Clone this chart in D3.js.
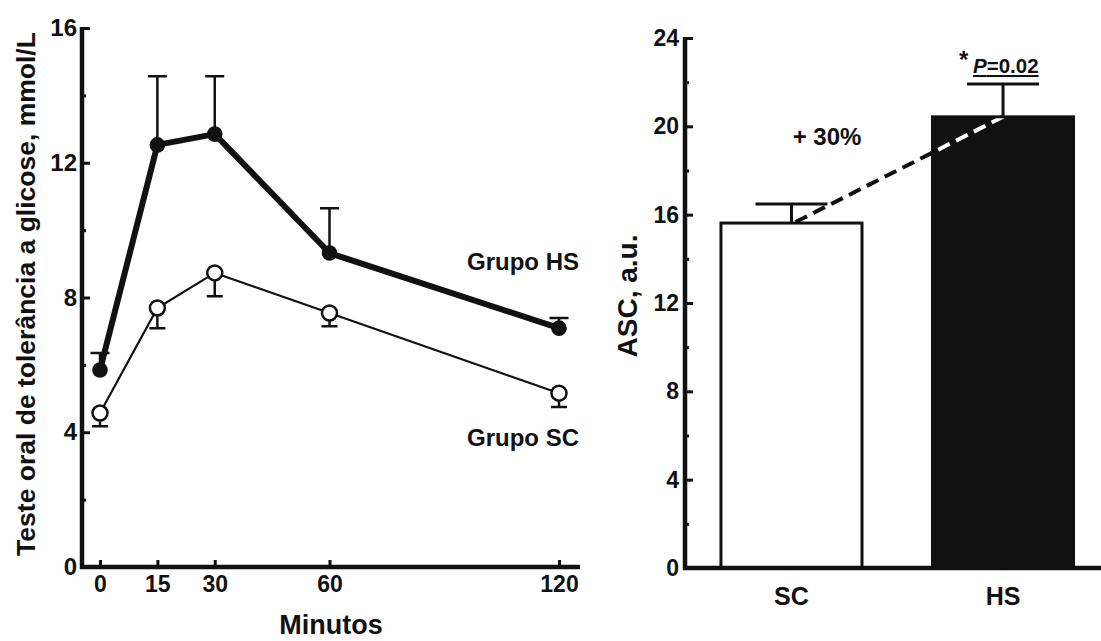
<!DOCTYPE html>
<html><head><meta charset="utf-8">
<script src="https://cdn.jsdelivr.net/npm/d3@7/dist/d3.min.js"></script>
<style>
html,body{margin:0;padding:0;background:#fff;}
svg text{font-family:"Liberation Sans",Arial,sans-serif;font-weight:bold;fill:#111;}
</style></head>
<body>
<svg id="c" width="1101" height="641"></svg>
<script>
// ---- data ----
const minutes = [0, 15, 30, 60, 120];
const hsMean = [5.85, 12.53, 12.85, 9.32, 7.09];
const hsErr  = [0.50, 2.04, 1.72, 1.33, 0.30];
const scMean = [4.57, 7.69, 8.73, 7.54, 5.16];
const scErr  = [0.39, 0.60, 0.69, 0.39, 0.41];
const leftYTicks = [0, 4, 8, 12, 16];
const leftYMinor = [2, 6, 10, 14];
const groups = ["SC", "HS"];
const ascMean = [15.62, 20.43];
const ascErr  = [0.86, 1.49];
const rightYTicks = [0, 4, 8, 12, 16, 20, 24];
const rightYMinor = [2, 6, 10, 14, 18, 22];

const svg = d3.select("#c");
const ink = "#111";

// ================= LEFT PANEL =================
const x = d3.scaleLinear().domain([0, 120]).range([100, 559]);
const y = d3.scaleLinear().domain([0, 16]).range([567, 28]);
const L = svg.append("g");

// y axis
const yAx = L.append("g").attr("transform", "translate(82,0)")
  .call(d3.axisLeft(y).tickValues(leftYTicks).tickSizeInner(-8).tickSizeOuter(0).tickPadding(5));
yAx.select(".domain").remove();
yAx.selectAll(".tick line").attr("stroke", ink).attr("stroke-width", 3);
yAx.selectAll(".tick text").attr("font-size", null).style("font-size", "24px").attr("fill", ink);
const yMin = L.append("g").attr("transform", "translate(82,0)")
  .call(d3.axisLeft(y).tickValues(leftYMinor).tickSizeInner(-4).tickSizeOuter(0).tickFormat(""));
yMin.select(".domain").remove();
yMin.selectAll(".tick line").attr("stroke", ink).attr("stroke-width", 3);
L.append("line").attr("x1", 82).attr("x2", 82).attr("y1", y(16) - 1).attr("y2", y(0) + 2)
  .attr("stroke", ink).attr("stroke-width", 4.5);

// x axis
const xAx = L.append("g").attr("transform", `translate(0,${y(0)})`)
  .call(d3.axisBottom(x).tickValues(minutes).tickSizeInner(-7).tickSizeOuter(0).tickPadding(9));
xAx.select(".domain").remove();
xAx.selectAll(".tick line").attr("stroke", ink).attr("stroke-width", 3);
xAx.selectAll(".tick text").style("font-size", "23px").attr("fill", ink);
L.append("line").attr("x1", 80).attr("x2", 580).attr("y1", y(0)).attr("y2", y(0))
  .attr("stroke", ink).attr("stroke-width", 4.5);

// axis titles
L.append("text").attr("transform", "translate(35,294) rotate(-90)")
  .attr("text-anchor", "middle").style("font-size", "26.5px").text("Teste oral de tolerância a glicose, mmol/L");
L.append("text").attr("x", 331).attr("y", 634).attr("text-anchor", "middle")
  .style("font-size", "27px").text("Minutos");

const sc = minutes.map((m, i) => ({m, v: scMean[i], e: scErr[i]}));
const hs = minutes.map((m, i) => ({m, v: hsMean[i], e: hsErr[i]}));
const line = d3.line().x(d => x(d.m)).y(d => y(d.v));

// SC error bars (downward)
L.selectAll(".scerr").data(sc).enter().append("path")
  .attr("d", d => `M${x(d.m)},${y(d.v)}V${y(d.v - d.e)}M${x(d.m) - 8},${y(d.v - d.e)}H${x(d.m) + 8}`)
  .attr("stroke", ink).attr("stroke-width", 2.5).attr("fill", "none");
L.append("path").datum(sc).attr("d", line).attr("fill", "none").attr("stroke", ink).attr("stroke-width", 2.2);

// HS error bars (upward)
L.selectAll(".hserr").data(hs).enter().append("path")
  .attr("d", d => `M${x(d.m)},${y(d.v)}V${y(d.v + d.e)}M${x(d.m) - 9.5},${y(d.v + d.e)}H${x(d.m) + 9.5}`)
  .attr("stroke", ink).attr("stroke-width", 2.5).attr("fill", "none");
L.append("path").datum(hs).attr("d", line).attr("fill", "none").attr("stroke", ink).attr("stroke-width", 6)
  .attr("stroke-linejoin", "round");

L.selectAll(".scpt").data(sc).enter().append("circle")
  .attr("cx", d => x(d.m)).attr("cy", d => y(d.v)).attr("r", 7.5)
  .attr("fill", "#fff").attr("stroke", ink).attr("stroke-width", 2.5);
L.selectAll(".hspt").data(hs).enter().append("circle")
  .attr("cx", d => x(d.m)).attr("cy", d => y(d.v)).attr("r", 7.8)
  .attr("fill", ink);

L.append("text").attr("x", 467).attr("y", 270).style("font-size", "24px").text("Grupo HS");
L.append("text").attr("x", 467).attr("y", 446).style("font-size", "24px").text("Grupo SC");

// ================= RIGHT PANEL =================
const xb = d3.scaleBand().domain(groups).range([685, 1109.5]).paddingInner(0.3333).paddingOuter(0.17);
const yb = d3.scaleLinear().domain([0, 24]).range([568, 38]);
const R = svg.append("g");

const ybAx = R.append("g").attr("transform", "translate(685,0)")
  .call(d3.axisLeft(yb).tickValues(rightYTicks).tickSizeInner(-8).tickSizeOuter(0).tickPadding(6));
ybAx.select(".domain").remove();
ybAx.selectAll(".tick line").attr("stroke", ink).attr("stroke-width", 3);
ybAx.selectAll(".tick text").style("font-size", "23px").attr("fill", ink);
const ybMin = R.append("g").attr("transform", "translate(685,0)")
  .call(d3.axisLeft(yb).tickValues(rightYMinor).tickSizeInner(-4).tickSizeOuter(0).tickFormat(""));
ybMin.select(".domain").remove();
ybMin.selectAll(".tick line").attr("stroke", ink).attr("stroke-width", 3);

const bars = groups.map((g, i) => ({g, v: ascMean[i], e: ascErr[i]}));
R.selectAll(".berr").data(bars).enter().append("path")
  .attr("d", d => {
    const cx = xb(d.g) + xb.bandwidth() / 2;
    return `M${cx},${yb(d.v)}V${yb(d.v + d.e)}M${cx - 36},${yb(d.v + d.e)}H${cx + 36}`;
  })
  .attr("stroke", ink).attr("stroke-width", 3).attr("fill", "none");
R.selectAll(".bar").data(bars).enter().append("rect")
  .attr("x", d => xb(d.g)).attr("y", d => yb(d.v))
  .attr("width", xb.bandwidth()).attr("height", d => yb(0) - yb(d.v))
  .attr("fill", (d, i) => i === 0 ? "#fff" : ink)
  .attr("stroke", ink).attr("stroke-width", 3);

// dashed connector: black on white, white inside the black bar
svg.append("defs").append("clipPath").attr("id", "hsclip").append("rect")
  .attr("x", xb("HS") + 1.5).attr("y", yb(ascMean[1]) + 1.5)
  .attr("width", xb.bandwidth() - 3).attr("height", yb(0) - yb(ascMean[1]));
const dash = {
  x1: xb("SC") + xb.bandwidth() / 2 + 4, y1: yb(ascMean[0]) - 1,
  x2: xb("HS") + xb.bandwidth() / 2, y2: yb(ascMean[1])
};
["#111", "#fff"].forEach((col, k) => {
  const l = R.append("line")
    .attr("x1", dash.x1).attr("y1", dash.y1).attr("x2", dash.x2).attr("y2", dash.y2)
    .attr("stroke", col).attr("stroke-width", 4).attr("stroke-dasharray", "13,7");
  if (k === 1) l.attr("clip-path", "url(#hsclip)");
});

R.append("line").attr("x1", 685).attr("x2", 685).attr("y1", yb(24) - 1).attr("y2", yb(0) + 2)
  .attr("stroke", ink).attr("stroke-width", 4.5);
R.append("line").attr("x1", 683).attr("x2", 1101).attr("y1", yb(0)).attr("y2", yb(0))
  .attr("stroke", ink).attr("stroke-width", 4.5);

R.selectAll(".cat").data(groups).enter().append("text")
  .attr("x", d => xb(d) + xb.bandwidth() / 2).attr("y", 605).attr("text-anchor", "middle")
  .style("font-size", "25px").text(d => d);

R.append("text").attr("transform", "translate(637,296) rotate(-90)")
  .attr("text-anchor", "middle").style("font-size", "28px").text("ASC, a.u.");

R.append("text").attr("x", 827).attr("y", 145).attr("text-anchor", "middle")
  .style("font-size", "24px").text("+ 30%");
R.append("text").attr("x", 959).attr("y", 68).style("font-size", "24px").text("*");
const pt = R.append("text").attr("x", 973).attr("y", 73).style("font-size", "20.5px")
  .style("text-decoration", "underline");
pt.append("tspan").style("font-style", "italic").text("P");
pt.append("tspan").text("=0.02");
</script>
</body></html>
